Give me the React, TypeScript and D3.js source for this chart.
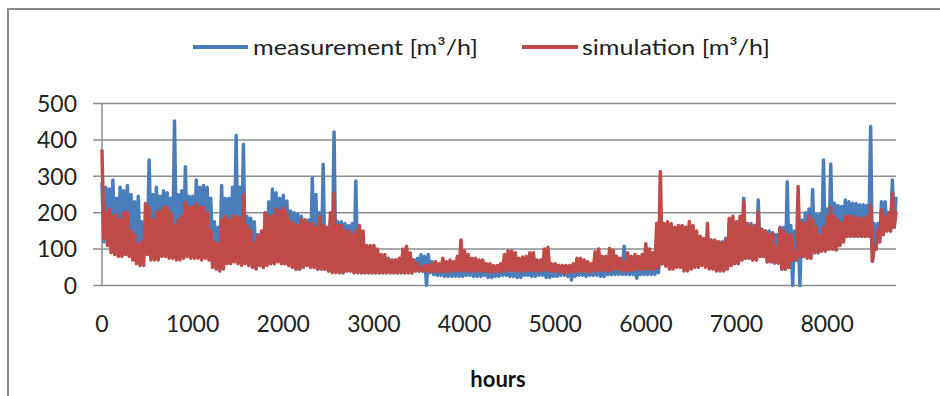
import { useEffect, useRef } from "react";
import * as d3 from "d3";

// hourly series: for every 40-hour block the top and
// the bottom of the (very noisy) curve; the peak sits at the block start,
// the trough half way through
const BLOCK_HOURS = 40;
const MAX_HOUR = 8760;

const measurementHigh = [
  // 0 - 960
  280, 270, 265, 290, 240, 270, 260, 275, 250, 230, 245, 175, 160, 345, 250, 270, 245, 260, 255, 240, 452, 250, 260, 326, 245,
  // 1000 - 1960
  245, 290, 270, 275, 270, 240, 175, 160, 275, 240, 240, 270, 412, 270, 388, 190, 185, 175, 140, 130, 200, 230, 265, 255, 240,
  // 2000 - 2960
  248, 232, 205, 200, 196, 190, 180, 180, 295, 250, 200, 333, 150, 180, 422, 175, 175, 170, 165, 170, 287, 110, 110, 95, 90,
  // 3000 - 3960
  95, 85, 80, 75, 75, 70, 70, 70, 80, 85, 80, 70, 75, 85, 80, 85, 65, 55, 50, 50, 45, 45, 45, 45, 50,
  // 4000 - 4960
  50, 55, 55, 55, 55, 50, 50, 45, 45, 45, 50, 50, 55, 55, 45, 45, 50, 50, 45, 45, 50, 50, 48, 45, 45,
  // 5000 - 5960
  50, 55, 55, 50, 50, 45, 45, 45, 45, 50, 50, 50, 45, 50, 50, 55, 55, 60, 60, 108, 55, 55, 50, 50, 55,
  // 6000 - 6960
  55, 60, 60, 60, 140, 160, 160, 150, 150, 160, 160, 160, 165, 160, 120, 115, 118, 110, 125, 120, 120, 120, 130, 170, 175,
  // 7000 - 7960
  175, 170, 240, 170, 170, 165, 235, 155, 150, 150, 145, 140, 160, 160, 285, 165, 150, 150, 180, 200, 210, 264, 195, 195, 345,
  // 8000 - 8760
  210, 334, 226, 220, 217, 235, 230, 226, 225, 222, 222, 220, 437, 170, 170, 230, 230, 200, 290, 240,
];

const measurementLow = [
  120, 140, 135, 130, 130, 140, 120, 130, 110, 110, 100, 100, 90, 110, 100, 110, 100, 110, 100, 100, 110, 110, 100, 100, 100,
  100, 100, 100, 100, 100, 90, 60, 50, 50, 70, 70, 80, 90, 80, 70, 70, 60, 50, 60, 50, 60, 60, 70, 70, 70,
  60, 55, 50, 45, 45, 50, 55, 50, 50, 45, 45, 45, 40, 40, 40, 35, 35, 40, 40, 35, 35, 35, 35, 35, 35,
  35, 35, 35, 35, 35, 35, 35, 35, 35, 35, 35, 40, 40, 40, 0, 35, 30, 28, 28, 25, 25, 25, 25, 25, 25,
  28, 28, 25, 25, 25, 28, 22, 22, 25, 25, 28, 28, 25, 25, 22, 22, 28, 28, 25, 25, 28, 28, 22, 22, 25,
  25, 28, 28, 25, 15, 25, 28, 28, 25, 28, 28, 28, 25, 25, 30, 30, 30, 30, 30, 30, 30, 30, 20, 30, 30,
  30, 30, 30, 35, 60, 55, 55, 55, 60, 55, 50, 50, 55, 60, 60, 60, 60, 55, 50, 45, 45, 45, 50, 55, 60,
  65, 70, 75, 75, 70, 70, 80, 80, 65, 65, 62, 62, 45, 45, 50, 0, 70, 0, 80, 80, 75, 90, 90, 95, 95,
  100, 100, 98, 110, 120, 135, 135, 135, 135, 135, 135, 135, 67, 100, 120, 140, 150, 150, 160, 180,
];

const simulationHigh = [
  370, 200, 210, 190, 195, 180, 200, 200, 150, 140, 110, 120, 225, 215, 180, 200, 205, 215, 215, 200, 165, 180, 190, 227, 215,
  215, 225, 215, 215, 200, 150, 120, 115, 180, 190, 180, 190, 190, 185, 248, 165, 150, 115, 135, 150, 200, 190, 190, 210, 205,
  213, 200, 175, 170, 165, 180, 180, 170, 170, 160, 190, 165, 160, 200, 254, 165, 165, 150, 150, 140, 150, 165, 150, 110, 110,
  110, 100, 85, 85, 70, 70, 70, 75, 100, 108, 90, 70, 60, 50, 55, 55, 60, 65, 60, 75, 65, 70, 65, 80, 125,
  95, 85, 75, 75, 70, 70, 60, 60, 55, 55, 60, 85, 95, 95, 90, 75, 78, 80, 90, 90, 70, 70, 100, 105, 60,
  60, 55, 55, 55, 55, 60, 75, 75, 70, 65, 60, 93, 100, 80, 80, 102, 97, 80, 75, 65, 90, 80, 85, 80, 85,
  115, 100, 90, 171, 313, 170, 175, 170, 160, 165, 165, 160, 176, 165, 150, 135, 130, 171, 125, 125, 120, 118, 125, 185, 190,
  175, 190, 230, 170, 163, 165, 203, 153, 150, 140, 144, 107, 158, 150, 140, 140, 90, 272, 171, 171, 190, 180, 160, 135, 160,
  190, 217, 190, 180, 171, 190, 190, 190, 185, 185, 185, 190, 222, 107, 153, 208, 190, 200, 253, 200,
];

const simulationLow = [
  130, 110, 90, 85, 80, 80, 85, 80, 70, 60, 55, 55, 85, 70, 70, 70, 80, 80, 75, 75, 70, 70, 75, 80, 75,
  75, 75, 70, 75, 70, 50, 45, 40, 45, 60, 60, 65, 60, 55, 60, 55, 50, 45, 55, 50, 55, 60, 60, 65, 60,
  60, 55, 50, 45, 45, 50, 55, 50, 50, 45, 45, 45, 40, 35, 35, 35, 35, 40, 40, 35, 35, 35, 35, 35, 35,
  35, 35, 35, 35, 35, 35, 35, 35, 35, 35, 35, 40, 40, 40, 40, 38, 38, 38, 40, 38, 38, 40, 40, 40, 42,
  40, 40, 40, 40, 40, 40, 38, 38, 38, 38, 40, 40, 42, 42, 40, 40, 40, 42, 42, 40, 40, 42, 42, 40, 40,
  38, 38, 35, 35, 38, 38, 40, 40, 38, 38, 40, 40, 42, 42, 40, 42, 45, 45, 40, 40, 42, 42, 45, 45, 45,
  45, 45, 45, 50, 60, 53, 45, 45, 50, 50, 40, 40, 45, 50, 50, 55, 50, 45, 45, 40, 40, 40, 45, 55, 60,
  60, 70, 75, 75, 70, 70, 80, 80, 65, 65, 62, 62, 45, 45, 50, 70, 70, 80, 80, 75, 75, 90, 90, 95, 95,
  100, 100, 98, 110, 120, 135, 135, 135, 135, 135, 135, 135, 67, 100, 120, 140, 150, 150, 160, 180,
];

const xTicks = [0, 1000, 2000, 3000, 4000, 5000, 6000, 7000, 8000];
const yTicks = [0, 100, 200, 300, 400, 500];
const seriesNames = ["measurement [m³/h]", "simulation [m³/h]"];
const seriesColors = ["#4a7ebb", "#be4b48"];

type Pt = { hour: number; value: number };

function toPoints(high: number[], low: number[]): Pt[] {
  const pts: Pt[] = [];
  high.forEach((h, i) => {
    pts.push({ hour: i * BLOCK_HOURS, value: h });
    pts.push({ hour: i * BLOCK_HOURS + BLOCK_HOURS / 2, value: low[i] });
  });
  return pts.filter((p) => p.hour <= MAX_HOUR);
}

export default function App() {
  const svgRef = useRef<SVGSVGElement>(null);

  useEffect(() => {
    document.body.style.margin = "0";
    const svg = d3.select(svgRef.current);
    svg.selectAll("*").remove();
    const width = 940;
    const height = 396;
    const font = "Lato, 'Open Sans', sans-serif";

    svg.attr("width", width).attr("height", height).style("background", "#fff");

    // outer chart border
    svg
      .append("rect")
      .attr("x", 8)
      .attr("y", 9)
      .attr("width", 960)
      .attr("height", 420)
      .attr("fill", "none")
      .attr("stroke", "#8a8a8a")
      .attr("stroke-width", 2);

    const x = d3.scaleLinear().domain([0, MAX_HOUR]).range([102, 896]);
    const y = d3.scaleLinear().domain([0, 500]).range([285.5, 103.5]);

    // gridlines + y ticks
    svg
      .append("g")
      .selectAll("line")
      .data(yTicks)
      .enter()
      .append("line")
      .attr("x1", 93)
      .attr("x2", x(MAX_HOUR))
      .attr("y1", (d) => y(d))
      .attr("y2", (d) => y(d))
      .attr("stroke", "#8c8c8c")
      .attr("stroke-width", 1.5);

    svg
      .append("line")
      .attr("x1", x(0))
      .attr("x2", x(0))
      .attr("y1", y(500))
      .attr("y2", y(0))
      .attr("stroke", "#8c8c8c")
      .attr("stroke-width", 1.5);

    svg
      .append("g")
      .selectAll("text")
      .data(yTicks)
      .enter()
      .append("text")
      .attr("x", 77)
      .attr("y", (d) => y(d))
      .attr("dy", "0.36em")
      .attr("text-anchor", "end")
      .style("font-family", font)
      .style("font-size", "23px")
      .attr("fill", "#222")
      .text((d) => d);

    svg
      .append("g")
      .selectAll("text")
      .data(xTicks)
      .enter()
      .append("text")
      .attr("x", (d) => x(d))
      .attr("y", 332)
      .attr("text-anchor", "middle")
      .style("font-family", font)
      .style("font-size", "23px")
      .attr("fill", "#222")
      .text((d) => d);

    svg
      .append("text")
      .attr("x", 498)
      .attr("y", 387)
      .attr("text-anchor", "middle")
      .style("font-family", font)
      .style("font-size", "22px")
      .style("font-weight", "bold")
      .attr("fill", "#111")
      .text("hours");

    const line = d3
      .line<Pt>()
      .x((d) => x(d.hour))
      .y((d) => y(d.value));

    const series = [
      toPoints(measurementHigh, measurementLow),
      toPoints(simulationHigh, simulationLow),
    ];

    series.forEach((pts, k) => {
      svg
        .append("path")
        .datum(pts)
        .attr("d", line)
        .attr("fill", "none")
        .attr("stroke", seriesColors[k])
        .attr("stroke-width", 3.5)
        .attr("stroke-linejoin", "round")
        .attr("stroke-linecap", "round");
    });

    // legend
    const legendX = [[193, 248, 253, 225], [522, 578, 582, 188]];
    legendX.forEach(([x1, x2, tx, tl], k) => {
      svg
        .append("line")
        .attr("x1", x1)
        .attr("x2", x2)
        .attr("y1", 47)
        .attr("y2", 47)
        .attr("stroke", seriesColors[k])
        .attr("stroke-width", 4);
      svg
        .append("text")
        .attr("x", tx)
        .attr("y", 55)
        .attr("textLength", tl)
        .attr("lengthAdjust", "spacingAndGlyphs")
        .style("font-family", font)
        .style("font-size", "22px")
        .attr("fill", "#222")
        .text(seriesNames[k]);
    });
  }, []);

  return <svg ref={svgRef}></svg>;
}
